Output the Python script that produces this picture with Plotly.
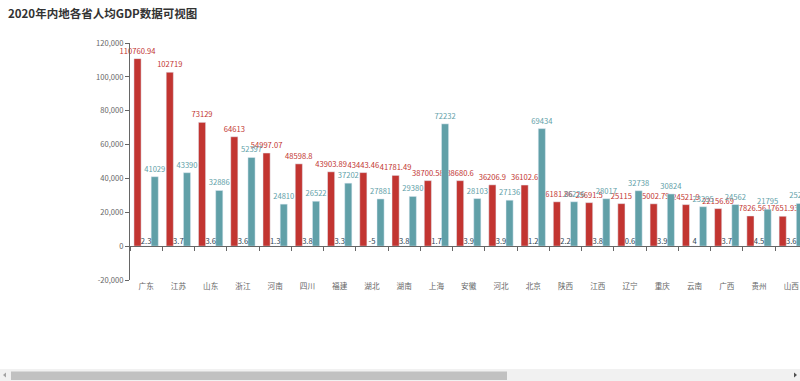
import plotly.graph_objects as go

provinces = ["广东", "江苏", "山东", "浙江", "河南", "四川", "福建", "湖北", "湖南", "上海",
             "安徽", "河北", "北京", "陕西", "江西", "辽宁", "重庆", "云南", "广西", "贵州",
             "山西", "内蒙古", "天津", "新疆", "黑龙江", "吉林", "甘肃", "海南", "宁夏", "青海", "西藏"]
gdp = [110760.94, 102719, 73129, 64613, 54997.07, 48598.8, 43903.89, 43443.46, 41781.49, 38700.58,
       38680.6, 36206.9, 36102.6, 26181.86, 25691.5, 25115, 25002.79, 24521.9, 22156.69, 17826.56,
       17651.93, 17359.8, 14083.73, 13797.58, 13698.5, 12311.32, 9016.7, 5532.39, 3920.55, 3005.92, 1902.74]
growth = [2.3, 3.7, 3.6, 3.6, 1.3, 3.8, 3.3, -5, 3.8, 1.7,
          3.9, 3.9, 1.2, 2.2, 3.8, 0.6, 3.9, 4, 3.7, 4.5,
          3.6, 0.2, 1.5, 3.4, 1.0, 2.4, 3.9, 3.5, 3.9, 1.5, 7.8]
income = [41029, 43390, 32886, 52397, 24810, 26522, 37202, 27881, 29380, 72232,
          28103, 27136, 69434, 26226, 28017, 32738, 30824, 23295, 24562, 21795,
          25214, 31497, 43854, 23845, 24902, 25751, 20335, 27904, 25735, 24037, 21744]
y_tick_vals = [-20000, 0, 20000, 40000, 60000, 80000, 100000, 120000]
y_tick_text = ["-20,000", "0", "20,000", "40,000", "60,000", "80,000", "100,000", "120,000"]

RED, DARK, TEAL = "#c23531", "#2f4554", "#61a0a8"
AXIS = "#666"
FONT = "Microsoft YaHei, Noto Sans CJK SC, sans-serif"
FS = 7.6

def fmt(v):
    return f"{v:g}" if float(v).is_integer() else str(v)

fig = go.Figure()
fig.add_trace(go.Bar(x=provinces, y=gdp, marker_color=RED, text=[fmt(v) for v in gdp],
                     textposition="outside", constraintext="none", cliponaxis=False,
                     textfont=dict(color=RED, size=FS, family=FONT), name="GDP"))
fig.add_trace(go.Bar(x=provinces, y=growth, marker_color=DARK, name="增速"))
fig.add_trace(go.Bar(x=provinces, y=income, marker_color=TEAL, text=[fmt(v) for v in income],
                     textposition="outside", constraintext="none", cliponaxis=False,
                     textfont=dict(color=TEAL, size=FS, family=FONT), name="收入"))
fig.add_trace(go.Scatter(x=provinces, y=growth, mode="text", text=[fmt(v) for v in growth],
                         textposition="top center", cliponaxis=False,
                         textfont=dict(color=DARK, size=FS, family=FONT), showlegend=False))

ymin, ymax = -20000, 120000
W, H = 1250, 381
L, R, T, B = 130, 120, 43, 101
PW, PH = W - L - R, H - T - B

def px(x):
    return (x - L) / PW

def py(y):
    return 1 - (y - T) / PH

# browser scrollbar look (page is wider than the window)
shapes = [
    dict(type="rect", xref="paper", yref="paper", x0=px(0), x1=px(800), y0=py(381), y1=py(369),
         fillcolor="#f1f1f1", line=dict(width=0), layer="above"),
    dict(type="rect", xref="paper", yref="paper", x0=px(11), x1=px(507), y0=py(380), y1=py(371.5),
         fillcolor="#c1c1c1", line=dict(width=0), layer="above"),
    dict(type="path", xref="paper", yref="paper",
         path=f"M {px(3)} {py(375)} L {px(6)} {py(372.5)} L {px(6)} {py(377.5)} Z",
         fillcolor="#a3a3a3", line=dict(width=0), layer="above"),
    dict(type="path", xref="paper", yref="paper",
         path=f"M {px(797)} {py(375)} L {px(794)} {py(372.5)} L {px(794)} {py(377.5)} Z",
         fillcolor="#505050", line=dict(width=0), layer="above"),
]

fig.update_layout(
    width=W, height=H,
    margin=dict(l=L, r=R, t=T, b=B),
    paper_bgcolor="white", plot_bgcolor="white",
    showlegend=False,
    barmode="group", bargap=0.2, bargroupgap=0.17,
    font=dict(family=FONT, size=FS, color="#333"),
    title=dict(text="<b>2020年内地各省人均GDP数据可视图</b>", x=8 / W, xref="container", xanchor="left",
               y=1 - 13.5 / H, yref="container", yanchor="middle", pad=dict(t=0, l=0, b=0, r=0),
               font=dict(size=11.5, color="#333", family=FONT)),
    xaxis=dict(type="category", range=[-0.5, len(provinces) - 0.5], showline=False, ticks="",
               showgrid=False, zeroline=False, tickfont=dict(size=FS, color=AXIS)),
    xaxis2=dict(overlaying="x", anchor="free", position=(0 - ymin) / (ymax - ymin), side="bottom",
                type="linear", range=[-0.5, len(provinces) - 0.5],
                tickvals=[i - 0.5 for i in range(len(provinces) + 1)], ticks="outside", ticklen=4,
                tickcolor=AXIS, showticklabels=False, showline=True, linecolor=AXIS, linewidth=1,
                showgrid=False, zeroline=False),
    yaxis=dict(range=[ymin, ymax], tickvals=y_tick_vals, ticktext=y_tick_text, showline=True,
               linecolor=AXIS, ticks="outside", ticklen=4, tickcolor=AXIS, showgrid=False,
               zeroline=False, tickfont=dict(size=FS, color=AXIS)),
    shapes=shapes,
)
fig.add_trace(go.Scatter(x=[0], y=[0], xaxis="x2", mode="markers", marker=dict(opacity=0),
                         hoverinfo="skip", showlegend=False))

fig.write_html("out.html", post_script="document.body.style.margin='0';document.body.style.overflow='hidden';")
